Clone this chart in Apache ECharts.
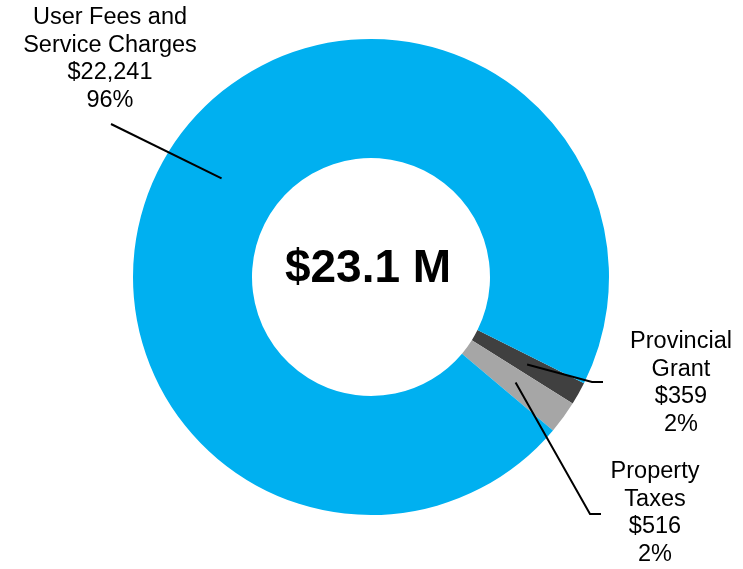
<!DOCTYPE html>
<html>
<head>
<meta charset="utf-8">
<script src="https://cdn.jsdelivr.net/npm/echarts@6/dist/echarts.min.js"></script>
<style>
  html, body { margin: 0; padding: 0; background: #fff; }
  #chart { width: 743px; height: 569px; }
</style>
</head>
<body>
<div id="chart"></div>
<script>
// data
const categories = ['Provincial\nGrant', 'Property\nTaxes', 'User Fees and\nService Charges']
const amounts = [359, 516, 22241]
const sliceColors = ['#404040', '#a6a6a6', '#00b0f0']
const centerText = '$23.1 M'

// layout
const CX = 371
const CY = 277
const R_OUT = 238
const R_IN = 119
const START_ANGLE = -26.5 // echarts degrees, first slice starts just below 3 o'clock
const LEADER_R = 179
// label block (center x, middle y) + leader line bits, one per category
const labelSpots = [
  { x: 681, y: 383, angle: null, bend: [[592, 382], [603, 382]] },
  { x: 655, y: 513, angle: null, bend: [[590, 514], [601, 514]] },
  { x: 110, y: 59, angle: 213.4, bend: [[111, 124]] }
]

const total = amounts.reduce((a, b) => a + b, 0)

// screen angle (clockwise from 3 o'clock) of the middle of each slice
function midAngle (i) {
  let acc = -START_ANGLE
  for (let k = 0; k < i; k++) acc += amounts[k] / total * 360
  return acc + amounts[i] / total * 180
}

const pieData = categories.map((name, i) => ({
  name: name,
  value: amounts[i],
  itemStyle: { color: sliceColors[i] }
}))

const myChart = echarts.init(document.getElementById('chart'))

const option = {
  animation: false,
  backgroundColor: '#fff',
  graphic: [
    {
      type: 'text',
      x: 368,
      y: 269,
      z: 10,
      style: {
        text: centerText,
        align: 'center',
        verticalAlign: 'middle',
        fontFamily: 'Liberation Sans, Arial, sans-serif',
        fontSize: 46,
        fontWeight: 'bold',
        fill: '#000'
      }
    }
  ],
  series: [
    {
      // the ring itself
      type: 'pie',
      z: 1,
      center: [CX, CY],
      radius: [R_IN, R_OUT],
      startAngle: START_ANGLE,
      clockwise: true,
      silent: true,
      emphasis: { disabled: true },
      itemStyle: { borderWidth: 0 },
      label: { show: false },
      labelLine: { show: false },
      data: pieData
    },
    {
      // same slices, invisible, only to put labels + leader lines on top of the ring
      type: 'pie',
      z: 5,
      center: [CX, CY],
      radius: [R_IN, R_OUT],
      startAngle: START_ANGLE,
      clockwise: true,
      avoidLabelOverlap: false,
      silent: true,
      emphasis: { disabled: true },
      itemStyle: { color: 'rgba(0,0,0,0)', borderWidth: 0 },
      data: categories.map((name, i) => ({ name: name, value: amounts[i] })),
      label: {
        show: true,
        position: 'outside',
        color: '#000',
        fontFamily: 'Liberation Sans, Arial, sans-serif',
        fontSize: 23.5,
        lineHeight: 27.5,
        align: 'center',
        formatter: function (p) {
          const pct = Math.round(p.value / total * 100)
          return p.name + '\n$' + p.value.toLocaleString('en-US') + '\n' + pct + '%'
        }
      },
      labelLine: {
        show: true,
        smooth: false,
        lineStyle: { color: '#000', width: 2 }
      },
      labelLayout: function (params) {
        const spot = labelSpots[params.dataIndex]
        const a = (spot.angle != null ? spot.angle : midAngle(params.dataIndex)) * Math.PI / 180
        const start = [CX + LEADER_R * Math.cos(a), CY + LEADER_R * Math.sin(a)]
        return {
          x: spot.x,
          y: spot.y,
          align: 'center',
          verticalAlign: 'middle',
          labelLinePoints: [start].concat(spot.bend)
        }
      }
    }
  ]
}

myChart.setOption(option)
</script>
</body>
</html>
